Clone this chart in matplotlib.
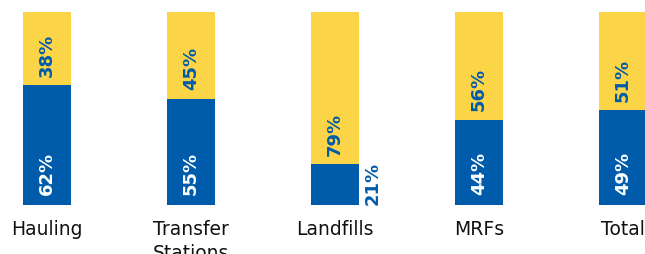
import matplotlib.pyplot as plt
import numpy as np

categories = ["Hauling", "Transfer\nStations", "Landfills", "MRFs", "Total"]
blue_pct = [62, 55, 21, 44, 49]
yellow_pct = [38, 45, 79, 56, 51]

BLUE = "#005BAA"
YELLOW = "#FCD448"

fig = plt.figure(figsize=(6.45, 2.55), dpi=100)
ax = fig.add_axes([0, 49 / 255, 1, 193 / 255])

x = np.arange(len(categories))
width = 1 / 3
ax.bar(x, blue_pct, width, color=BLUE)
ax.bar(x, yellow_pct, width, bottom=blue_pct, color=YELLOW)

label_kw = dict(rotation=90, ha="center", va="bottom", fontsize=13,
                fontweight="heavy", textcoords="offset points")
for xi, b, y in zip(x, blue_pct, yellow_pct):
    if b < 25:
        # too small to fit, put it beside the bar
        ax.annotate(f"{b}%", (xi + width / 2, 0), xytext=(10, 1),
                    color=BLUE, **label_kw)
    else:
        ax.annotate(f"{b}%", (xi, 0), xytext=(0, 8), color="white", **label_kw)
    ax.annotate(f"{y}%", (xi, b), xytext=(0, 7), color=BLUE, **label_kw)

ax.set_xlim(-47 / 144, (645 - 47) / 144)
ax.set_ylim(0, 100)
ax.set_xticks(x)
ax.set_xticklabels(categories, fontsize=13.5, color="#111111",
                   linespacing=1.35, multialignment="left")
ax.tick_params(axis="x", length=0, pad=10)
ax.set_yticks([])
for s in ax.spines.values():
    s.set_visible(False)

fig.savefig("out.png", dpi=100)
